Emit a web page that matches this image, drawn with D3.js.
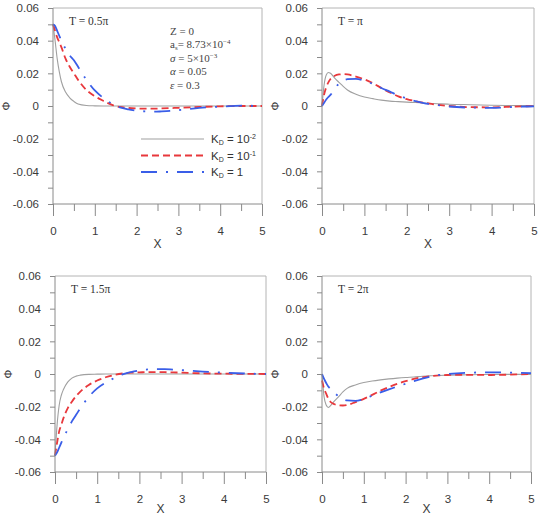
<!DOCTYPE html>
<html>
<head>
<meta charset="utf-8">
<script src="https://d3js.org/d3.v7.min.js"></script>
<style>
  body { margin: 0; background: #fff; }
  svg text { font-family: "Liberation Sans", Arial, sans-serif; }
  .serif { font-family: "Liberation Serif", "Times New Roman", serif; }
</style>
</head>
<body>
<svg width="541" height="515"></svg>
<script>
// sample points along X
var xs = [0, 0.05, 0.1, 0.15, 0.2, 0.3, 0.4, 0.5, 0.6, 0.8, 1.0, 1.2, 1.4, 1.6, 1.8,
          2.0, 2.2, 2.4, 2.6, 2.8, 3.0, 3.5, 4.0, 4.5, 5.0];

// T = 0.5 pi
var t05_kd001 = [0.05, 0.04, 0.029, 0.021, 0.015, 0.0085, 0.005, 0.0028, 0.0012, 0.0003, 0.0001, 0, 0, 0, 0,
                 0, 0, 0, 0, 0, 0, 0, 0, 0, 0];
var t05_kd01  = [0.05, 0.046, 0.042, 0.039, 0.036, 0.029, 0.024, 0.020, 0.016, 0.0098, 0.006, 0.0032, 0.0008, -0.0006, -0.0012,
                 -0.0015, -0.0016, -0.0016, -0.0015, -0.0013, -0.0011, -0.0006, -0.0002, 0, 0];
var t05_kd1   = [0.05, 0.049, 0.046, 0.043, 0.040, 0.035, 0.031, 0.028, 0.024, 0.016, 0.0095, 0.005, 0.0015, -0.0008, -0.002,
                 -0.0028, -0.0033, -0.0035, -0.0033, -0.003, -0.0025, -0.0012, -0.0004, 0.0002, 0];

// T = pi
var t1_kd001 = [0, 0.013, 0.019, 0.0205, 0.020, 0.017, 0.0145, 0.012, 0.0098, 0.0072, 0.0055, 0.0045, 0.0036, 0.003, 0.0027,
                0.0024, 0.0021, 0.0018, 0.0015, 0.0013, 0.0011, 0.0008, 0.0005, 0.0003, 0.0002];
var t1_kd01  = [0, 0.007, 0.0115, 0.0145, 0.0165, 0.0185, 0.0193, 0.0195, 0.0193, 0.018, 0.0163, 0.014, 0.011, 0.0083, 0.0059,
                0.0042, 0.003, 0.002, 0.0012, 0.0005, 0, -0.0007, -0.0008, -0.0004, 0];
var t1_kd1   = [0, 0.002, 0.004, 0.0055, 0.0068, 0.0105, 0.0138, 0.0155, 0.0164, 0.0166, 0.0155, 0.0135, 0.011, 0.0088, 0.0065,
                0.0046, 0.003, 0.0018, 0.001, 0.0003, -0.0003, -0.001, -0.0011, -0.0006, -0.0002];

// T = 1.5 pi
var t15_kd001 = [-0.05, -0.031, -0.019, -0.013, -0.0095, -0.005, -0.0025, -0.0013, -0.0007, -0.0002, -0.0001, 0, 0, 0, 0,
                 0, 0, 0, 0, 0, 0, 0, 0, 0, 0];
var t15_kd01  = [-0.05, -0.042, -0.035, -0.031, -0.027, -0.021, -0.017, -0.0135, -0.0108, -0.0067, -0.004, -0.002, -0.0006, 0.0003, 0.0008,
                 0.001, 0.0012, 0.0012, 0.0011, 0.001, 0.0008, 0.0004, 0.0002, 0.0001, 0];
var t15_kd1   = [-0.05, -0.048, -0.045, -0.042, -0.039, -0.034, -0.029, -0.025, -0.021, -0.014, -0.0088, -0.0053, -0.0025, -0.0002, 0.0012,
                 0.0022, 0.0028, 0.003, 0.003, 0.0027, 0.0024, 0.0015, 0.0008, 0.0003, 0];

// T = 2 pi
var t2_kd001 = [0, -0.014, -0.019, -0.0205, -0.0195, -0.0165, -0.0138, -0.011, -0.0088, -0.0067, -0.0052, -0.0043, -0.0036, -0.003, -0.0025,
                -0.0021, -0.0018, -0.0014, -0.0011, -0.0009, -0.0007, -0.0005, -0.0003, -0.0002, -0.0002];
var t2_kd01  = [-0.004, -0.009, -0.012, -0.015, -0.017, -0.0185, -0.0192, -0.0193, -0.019, -0.0172, -0.0152, -0.0128, -0.0102, -0.008, -0.006,
                -0.0044, -0.003, -0.002, -0.0013, -0.0008, -0.0006, -0.0005, -0.0006, -0.0004, 0];
var t2_kd1   = [0, -0.003, -0.0055, -0.0077, -0.009, -0.0115, -0.0138, -0.0153, -0.0162, -0.0165, -0.0153, -0.0133, -0.0112, -0.0094, -0.0077,
                -0.006, -0.0043, -0.0028, -0.0015, -0.0006, 0, 0.0008, 0.001, 0.0009, 0.0005];

var yTicks = [0.06, 0.05, 0.04, 0.03, 0.02, 0.01, 0, -0.01, -0.02, -0.03, -0.04, -0.05, -0.06];
var xMajor = [0, 1, 2, 3, 4, 5];
var xMinor = [0.5, 1.5, 2.5, 3.5, 4.5];

var panels = [
  {title: "T = 0.5\u03c0", x0: 53, x1: 262, y0: 8, y1: 204, series: [t05_kd001, t05_kd01, t05_kd1], legend: true},
  {title: "T = \u03c0",    x0: 322, x1: 534, y0: 8, y1: 204, series: [t1_kd001, t1_kd01, t1_kd1]},
  {title: "T = 1.5\u03c0", x0: 55, x1: 266, y0: 276, y1: 472, series: [t15_kd001, t15_kd01, t15_kd1]},
  {title: "T = 2\u03c0",   x0: 322, x1: 531, y0: 276, y1: 472, series: [t2_kd001, t2_kd01, t2_kd1]}
];

var styles = [
  {stroke: "#a0a0a0", width: 1.1, dash: null},
  {stroke: "#e8383c", width: 1.8, dash: "7,4"},
  {stroke: "#3a5ee8", width: 1.8, dash: "16,9,2,9"}
];

var svg = d3.select("svg");

panels.forEach(function(p) {
  var x = d3.scaleLinear().domain([0, 5]).range([p.x0, p.x1]);
  var y = d3.scaleLinear().domain([-0.06, 0.06]).range([p.y1, p.y0]);
  var g = svg.append("g");

  // top and right frame
  g.append("path")
      .attr("d", "M" + p.x0 + "," + p.y0 + "H" + p.x1 + "V" + p.y1)
      .attr("fill", "none")
      .attr("stroke", "#b4b4b4")
      .attr("stroke-width", 1);

  // curves
  p.series.forEach(function(vals, i) {
    var line = d3.line()
        .x(function(d, j) { return x(xs[j]); })
        .y(function(d) { return y(d); })
        .curve(d3.curveMonotoneX);
    g.append("path")
        .datum(vals)
        .attr("d", line)
        .attr("fill", "none")
        .attr("stroke", styles[i].stroke)
        .attr("stroke-width", styles[i].width)
        .attr("stroke-dasharray", styles[i].dash);
  });

  // y axis
  var ya = g.append("g")
      .attr("transform", "translate(" + p.x0 + ",0)")
      .call(d3.axisLeft(y).tickValues(yTicks).tickSize(5).tickPadding(9)
        .tickFormat(function(d) {
          var k = Math.round(d * 100);
          if (k % 2 != 0) return "";
          return k == 0 ? "0" : d.toFixed(2);
        }));

  // x axis, minor then major ticks
  var xa1 = g.append("g")
      .attr("transform", "translate(0," + p.y1 + ")")
      .call(d3.axisBottom(x).tickValues(xMinor).tickSize(7).tickFormat(""));
  var xa2 = g.append("g")
      .attr("transform", "translate(0," + p.y1 + ")")
      .call(d3.axisBottom(x).tickValues(xMajor).tickSize(12).tickPadding(11).tickFormat(d3.format("d")));

  [ya, xa1, xa2].forEach(function(a) {
    a.select(".domain").attr("stroke", "#8a8a8a");
    a.selectAll(".tick line").attr("stroke", "#8a8a8a");
    a.selectAll(".tick text").attr("fill", "#3a3a3a").attr("font-size", 11.5);
  });
  xa1.select(".domain").remove();
  ya.select(".domain").attr("d", "M0," + p.y0 + "V" + p.y1);
  xa2.select(".domain").attr("d", "M" + p.x0 + ",0H" + p.x1);

  // axis titles
  g.append("text")
      .attr("x", (p.x0 + p.x1) / 2)
      .attr("y", Math.min(p.y1 + 44, 513))
      .attr("text-anchor", "middle")
      .attr("font-size", 12)
      .attr("fill", "#3a3a3a")
      .text("X");
  g.append("text")
      .attr("transform", "translate(" + (p.x0 - 47) + "," + y(0) + ") rotate(-90)")
      .attr("text-anchor", "middle")
      .attr("dominant-baseline", "central")
      .attr("font-size", 11)
      .attr("fill", "#3a3a3a")
      .text("\u03a6");

  g.append("text")
      .attr("class", "serif")
      .attr("x", p.x0 + 16)
      .attr("y", p.y0 + 17)
      .attr("font-size", 11.5)
      .attr("fill", "#333")
      .text(p.title);

  if (p.legend) {
    var names = [["10", "-2"], ["10", "-1"], ["1", null]];
    names.forEach(function(n, i) {
      var ly = 139 + i * 16.5;
      g.append("line")
          .attr("x1", 141).attr("x2", 204)
          .attr("y1", ly).attr("y2", ly)
          .attr("stroke", styles[i].stroke)
          .attr("stroke-width", styles[i].width)
          .attr("stroke-dasharray", styles[i].dash);
      var t = g.append("text")
          .attr("x", 211).attr("y", ly + 4)
          .attr("font-size", 11.5)
          .attr("fill", "#333");
      t.append("tspan").text("K");
      t.append("tspan").attr("font-size", 7).attr("dy", 2).text("D");
      t.append("tspan").attr("dy", -2).text(" = " + n[0]);
      if (n[1]) t.append("tspan").attr("font-size", 7).attr("dy", -4).text(n[1]);
    });

    var params = g.append("g").attr("class", "serif").attr("font-size", 11).attr("fill", "#444");
    var px = 170;
    params.append("text").attr("class", "serif").attr("x", px).attr("y", 35).text("Z = 0");
    var a = params.append("text").attr("class", "serif").attr("x", px).attr("y", 48);
    a.append("tspan").text("a");
    a.append("tspan").attr("font-size", 7).attr("dy", 2).text("s");
    a.append("tspan").attr("dy", -2).text("= 8.73\u00d710");
    a.append("tspan").attr("font-size", 7).attr("dy", -4).text("\u22124");
    var s = params.append("text").attr("class", "serif").attr("x", px).attr("y", 61.5);
    s.append("tspan").attr("font-style", "italic").text("\u03c3");
    s.append("tspan").text(" = 5\u00d710");
    s.append("tspan").attr("font-size", 7).attr("dy", -4).text("\u22123");
    var al = params.append("text").attr("class", "serif").attr("x", px).attr("y", 75);
    al.append("tspan").attr("font-style", "italic").text("\u03b1");
    al.append("tspan").text(" = 0.05");
    var e = params.append("text").attr("class", "serif").attr("x", px).attr("y", 88.5);
    e.append("tspan").attr("font-style", "italic").text("\u03b5");
    e.append("tspan").text(" = 0.3");
  }
});
</script>
</body>
</html>
